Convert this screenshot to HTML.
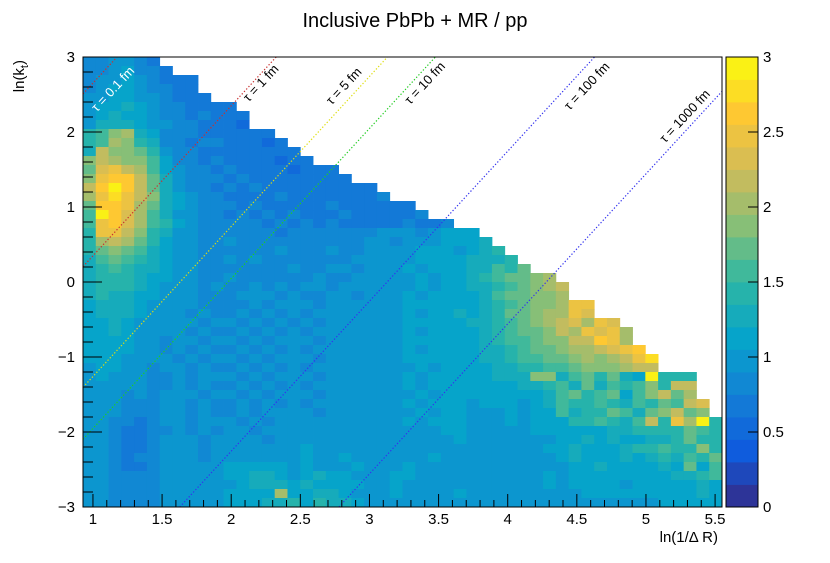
<!DOCTYPE html>
<html><head><meta charset="utf-8"><style>
html,body{margin:0;padding:0;background:#fff;}
svg{display:block;font-family:"Liberation Sans",sans-serif;}
</style></head><body>
<svg id="chart" width="830" height="563" viewBox="0 0 830 563" xmlns="http://www.w3.org/2000/svg">
<text x="415" y="27" font-size="20" text-anchor="middle" fill="#000">Inclusive PbPb + MR / pp</text>
<g id="cells"></g>
<g id="lines"></g>
<rect x="83" y="57" width="639" height="450" fill="none" stroke="#000" stroke-width="1"/>
<g id="axes"></g>
<g id="cbar"></g>
<text x="718" y="542" font-size="15" text-anchor="end">ln(1/Δ R)</text>
<text transform="translate(24,60) rotate(-90)" font-size="15" text-anchor="end">ln(k<tspan font-size="11" dy="4">t</tspan><tspan dy="-4">)</tspan></text>
</svg>
<script>
// ---- data ----
const xRange = [0.928, 5.55];
const yRange = [-3, 3];
const nBinsX = 50, nBinsY = 50;
// number of empty bins at top of each column (kinematic limit)
const emptyTop = [0,0,0,0,0,0,1,2,2,4,5,5,6,8,8,9,10,11,12,12,13,14,14,15,16,16,17,18,18,19,19,20,21,22,23,24,24,25,27,27,29,29,30,32,33,35,35,35,38,40];
// rows top->bottom, each char = colour level index (value band of 0.15)
const levelRows = [
"5566544444 4444444444 4444444444 4444444444 4444444444",
"5567554344 4444444444 4444444444 4444444444 4444444444",
"5667654444 4344444444 4444444444 4444444444 4444444444",
"5677655444 3444444444 4444444444 4444444444 4444444444",
"6677665444 4443444444 4444444444 4444444444 4444444444",
"6778765544 4444444444 4444444444 4444444444 4444444444",
"6787765545 4444443444 4444444444 4444444444 4444444444",
"6888766554 4434444444 4444444444 4444444444 4444444444",
"9ACD875554 4444444344 4444444444 4444444444 4444444444",
"9ADC985545 5444344444 4444444444 4444444444 4444444444",
"8ECCB96554 4444444444 4444444444 4444444444 4444444444",
"CEDCCA7554 5444434444 4444444444 4444444444 4444444444",
"BFGEDA7655 4544443444 4444444444 4444444444 4444444444",
"CGHHEB8655 5454444444 4454444444 4444444444 4444444444",
"EHJHEB8655 4545444444 4444444444 4444444444 4444444444",
"DGIGEC8765 5444454444 4445444444 4444444444 4444444444",
"BHHGDB8765 5545444445 4444444555 4444444444 4444444444",
"AJHFDA8665 5454545444 5444445555 6444444444 4444444444",
"AGHFDA9765 5555454545 4444454455 5666667777 4444444444",
"9GGEC98665 5555545555 5556665677 7777777777 4444444444",
"9DEDB97665 5655555555 5566566677 7877777777 4444444444",
"9BCBA87665 5555565556 5566667776 7899777777 4444444444",
"8ABA987665 5656555555 5666667777 8889A77777 4444444444",
"89A9887665 5555556556 6566676777 88A9BC7777 4444444444",
"8999877665 5655555565 5666667677 89ABBCD777 4444444444",
"8999876665 6556565665 6666667677 889ABCDE77 4444444444",
"8988776665 5566656556 6566676777 78ABBCCD77 4444444444",
"7888766665 5556566656 6666677777 789ABCCDGG 4444444444",
"7888766656 5565656566 6666676778 789BBCDDGF 4444444444",
"7787666665 6656565656 6666677777 889ABCDEFD GF44444444",
"7787666656 5565656566 6666676777 789ABBCEDG FGD4444444",
"7777665665 6656566656 6666677777 789AABCCEE HGD4444444",
"7777665656 5565656566 6666676777 7889ABBCDD EFGH444444",
"7776666565 6656566656 6666677777 7889AABBCD CDEGI44444",
"6776656656 5565656566 6666667677 778899AABC CCDEE44444",
"6766655656 6656566656 6666676777 77888CC8AB 9B87J999A4",
"6666655656 5565656566 6666676777 7777889A8B 8A9AC9EEE4",
"6665656665 6656566656 6666667677 7777778AB9 AB7ACEBDD4",
"6665556656 5565656566 6666676777 6777678A99 A98A9BAEFG",
"6665556656 5565666656 6666667677 6667677A89 9BA8BCEBCD",
"6655456656 6656566666 6666676777 6667677799 A98AE9GDJ9",
"6654455656 5665666666 6666666677 6666677777 7889999BA9",
"6654456665 6666566666 6666666667 6666666778 7877889B99",
"6654456665 6666666766 6666666666 6666667787 77899A99C9",
"6654556665 6666666766 7666666766 6666666787 7787898A9B",
"6654456666 6777776766 6766676666 6666666677 8777787B7A",
"6655556666 6778876787 7666776666 6666667677 777777889A",
"6655556666 6678887877 7766766666 6666667677 7767777787",
"6655556666 67777D7788 7666766667 6666666667 7777777787",
"6655556666 6777889798 8766666666 6666666666 6666677777"
];
const cbTicks = [0,0.5,1,1.5,2,2.5,3];
const xTicks = [1,1.5,2,2.5,3,3.5,4,4.5,5,5.5];
const yTicks = [-3,-2,-1,0,1,2,3];
const tauValues = [0.1,1,5,10,100,1000];
const tauLabels = ["τ = 0.1 fm","τ = 1 fm","τ = 5 fm","τ = 10 fm","τ = 100 fm","τ = 1000 fm"];
const tauColors = ["#c83030","#c83030","#dede10","#22cc22","#3333ee","#3333ee"];
const tauOffset0 = 0.652; // intercept of tau=0.1 line: ln kt = 2 ln(1/dR) + c

// ---- scales ----
const PX0=83, PX1=722, PY0=57, PY1=507;
const sx = v => PX0 + (v - xRange[0]) / (xRange[1]-xRange[0]) * (PX1-PX0);
const sy = v => PY1 - (v - yRange[0]) / (yRange[1]-yRange[0]) * (PY1-PY0);
const NS='http://www.w3.org/2000/svg';
// kBird palette
const pr=[0.2082,0.0592,0.0780,0.0232,0.1802,0.5301,0.8186,0.9956,0.9764];
const pg=[0.1664,0.3599,0.5041,0.6419,0.7178,0.7492,0.7328,0.7862,0.9832];
const pb=[0.5293,0.8684,0.8385,0.7914,0.6425,0.4662,0.3499,0.1968,0.0539];
function pal(t){t=Math.max(0,Math.min(1,t));const f=t*8,i=Math.min(7,Math.floor(f)),u=f-i;
 const c=a=>Math.round(255*(a[i]+(a[i+1]-a[i])*u));return `rgb(${c(pr)},${c(pg)},${c(pb)})`;}
const NBANDS=20, ZMAX=3;
function colorFor(v){const b=Math.min(NBANDS-1,Math.floor(v/ZMAX*NBANDS));return pal((b+0.5)/NBANDS);}
const LEV="0123456789ABCDEFGHIJ";

// ---- cells ----
const gC=document.getElementById('cells');
const bw=(xRange[1]-xRange[0])/nBinsX, bh=(yRange[1]-yRange[0])/nBinsY;
levelRows.forEach((row,r)=>{
 const s=row.replace(/ /g,'');
 for(let c=0;c<nBinsX;c++){
  if(r<emptyTop[c]) continue;
  const ch=s[c]||'6'; const li=LEV.indexOf(ch); if(li<0) continue;
  const v=(li+0.5)*ZMAX/NBANDS;
  const x0=sx(xRange[0]+c*bw), x1=sx(xRange[0]+(c+1)*bw);
  const yT=sy(yRange[1]-r*bh), yB=sy(yRange[1]-(r+1)*bh);
  const el=document.createElementNS(NS,'rect');
  
  
  el.setAttribute('x',x0);el.setAttribute('y',yT);
  el.setAttribute('width',x1-x0+0.4);el.setAttribute('height',yB-yT+0.4);
  el.setAttribute('fill',colorFor(v));
  gC.appendChild(el);
 }
});

// ---- tau lines ----
const gL=document.getElementById('lines');
const labelPos=[[116,92],[264,86],[347,89],[428,86],[590,89],[688,119]];
tauValues.forEach((tau,i)=>{
 const c=tauOffset0-Math.log(tau/0.1);
 let xa=xRange[0], ya=2*xa+c; if(ya<yRange[0]){ya=yRange[0];xa=(ya-c)/2;}
 let xb=xRange[1], yb=2*xb+c; if(yb>yRange[1]){yb=yRange[1];xb=(yb-c)/2;}
 const ln=document.createElementNS(NS,'line');
 
 
 ln.setAttribute('x1',sx(xa));ln.setAttribute('y1',sy(ya));ln.setAttribute('x2',sx(xb));ln.setAttribute('y2',sy(yb));
 ln.setAttribute('stroke',tauColors[i]);ln.setAttribute('stroke-width','1.2');ln.setAttribute('stroke-dasharray','1.3 2');
 gL.appendChild(ln);
 const t=document.createElementNS(NS,'text');
 
 
 t.setAttribute('transform',`translate(${labelPos[i][0]},${labelPos[i][1]}) rotate(-47)`);
 t.setAttribute('text-anchor','middle');t.setAttribute('font-size','13');
 t.setAttribute('fill',i===0?'#fff':'#000');
 t.textContent=tauLabels[i];
 gL.appendChild(t);
});

// ---- axes ----
const gA=document.getElementById('axes');
function mk(tag,attrs,name){const e=document.createElementNS(NS,tag);for(const k in attrs)e.setAttribute(k,attrs[k]);
 
 
 gA.appendChild(e);return e;}
for(let v=1;v<=5.5001;v+=0.1){const X=sx(v);const major=Math.abs(v*2-Math.round(v*2))<1e-6;
 mk('line',{x1:X,x2:X,y1:PY1,y2:PY1-(major?13:7),stroke:'#000'},'x-tick');}
xTicks.forEach(v=>{const t=mk('text',{x:sx(v),y:524,'font-size':15,'text-anchor':'middle'},'x-tick-label');t.textContent=String(v);});
for(let v=-3;v<=3.0001;v+=0.2){const Y=sy(v);const major=Math.abs(v-Math.round(v))<1e-6;
 mk('line',{x1:PX0,x2:PX0+(major?19:10),y1:Y,y2:Y,stroke:'#000'},'y-tick');}
yTicks.forEach(v=>{const t=mk('text',{x:75,y:sy(v)+5,'font-size':15,'text-anchor':'end'},'y-tick-label');t.textContent=v<0?'−'+Math.abs(v):String(v);});

// ---- colour bar ----
const gB=document.getElementById('cbar');
const CX0=726,CX1=758;
for(let b=0;b<NBANDS;b++){const y0=PY1-(b+1)*(PY1-PY0)/NBANDS;
 const e=document.createElementNS(NS,'rect');
 
 
 e.setAttribute('x',CX0);e.setAttribute('y',y0);e.setAttribute('width',CX1-CX0);e.setAttribute('height',(PY1-PY0)/NBANDS+0.4);
 e.setAttribute('fill',pal((b+0.5)/NBANDS));gB.appendChild(e);}
const fr=document.createElementNS(NS,'rect');


fr.setAttribute('x',CX0);fr.setAttribute('y',PY0);fr.setAttribute('width',CX1-CX0);fr.setAttribute('height',PY1-PY0);fr.setAttribute('fill','none');fr.setAttribute('stroke','#000');
gB.appendChild(fr);
cbTicks.forEach(v=>{const Y=PY1-v/ZMAX*(PY1-PY0);
 const l=document.createElementNS(NS,'line');
 
 
 l.setAttribute('x1',CX1-10);l.setAttribute('x2',CX1);l.setAttribute('y1',Y);l.setAttribute('y2',Y);l.setAttribute('stroke','#000');gB.appendChild(l);
 const t=document.createElementNS(NS,'text');
 
 
 t.setAttribute('x',763);t.setAttribute('y',Y+5);t.setAttribute('font-size','15');t.textContent=String(v);gB.appendChild(t);});
</script>
</body></html>
